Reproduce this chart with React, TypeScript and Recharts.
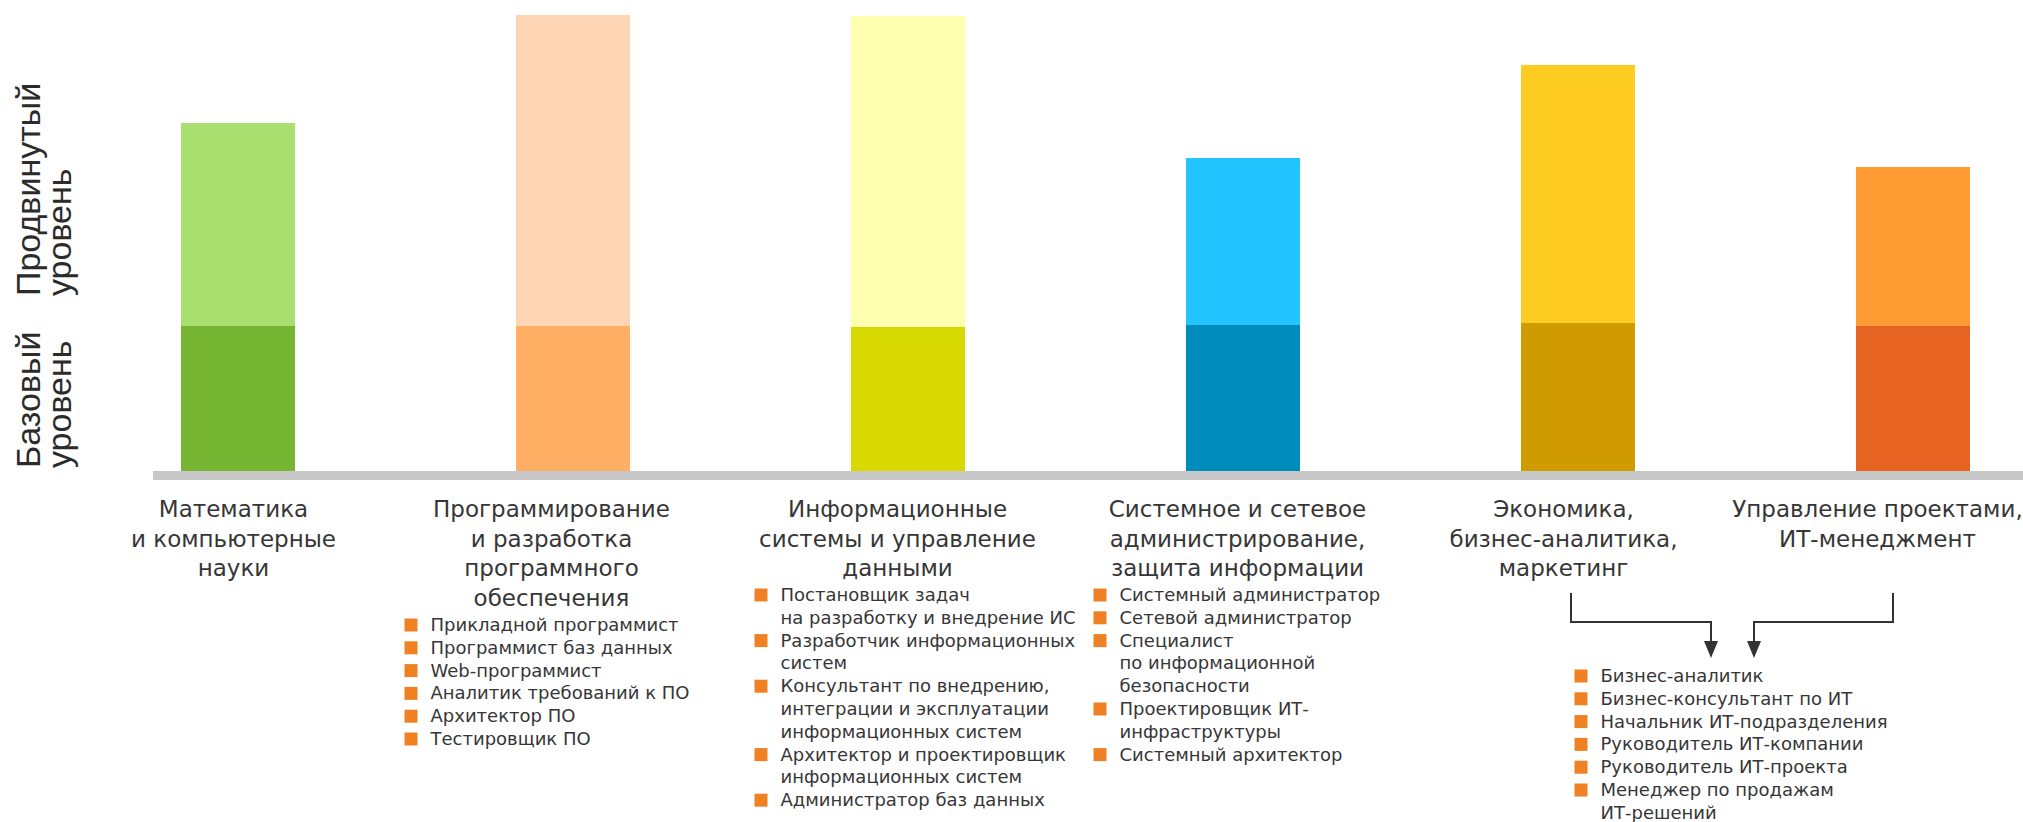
import React from 'react';
import { BarChart, Bar, XAxis, YAxis, Cell } from 'recharts';

// categories (x axis)
const CATEGORIES = [
  'Математика и компьютерные науки',
  'Программирование и разработка программного обеспечения',
  'Информационные системы и управление данными',
  'Системное и сетевое администрирование, защита информации',
  'Экономика, бизнес-аналитика, маркетинг',
  'Управление проектами, ИТ-менеджмент',
];

// stacked values: base level + advanced level (relative units)
const BASE_LEVEL = [145, 145, 144, 146, 148, 145];
const ADVANCED_LEVEL = [203, 311, 311, 167, 258, 159];

const LABEL_LINES = [
  ['Математика', 'и компьютерные', 'науки'],
  ['Программирование', 'и разработка', 'программного', 'обеспечения'],
  ['Информационные', 'системы и управление', 'данными'],
  ['Системное и сетевое', 'администрирование,', 'защита информации'],
  ['Экономика,', 'бизнес-аналитика,', 'маркетинг'],
  ['Управление проектами,', 'ИТ-менеджмент'],
];

// professions under each category (each item may wrap to several lines)
const JOBS = [
  [],
  [
    ['Прикладной программист'],
    ['Программист баз данных'],
    ['Web-программист'],
    ['Аналитик требований к ПО'],
    ['Архитектор ПО'],
    ['Тестировщик ПО'],
  ],
  [
    ['Постановщик задач', 'на разработку и внедрение ИС'],
    ['Разработчик информационных', 'систем'],
    ['Консультант по внедрению,', 'интеграции и эксплуатации', 'информационных систем'],
    ['Архитектор и проектировщик', 'информационных систем'],
    ['Администратор баз данных'],
  ],
  [
    ['Системный администратор'],
    ['Сетевой администратор'],
    ['Специалист', 'по информационной', 'безопасности'],
    ['Проектировщик ИТ-', 'инфраструктуры'],
    ['Системный архитектор'],
  ],
  [
    ['Бизнес-аналитик'],
    ['Бизнес-консультант по ИТ'],
    ['Начальник ИТ-подразделения'],
    ['Руководитель ИТ-компании'],
    ['Руководитель ИТ-проекта'],
    ['Менеджер по продажам', 'ИТ-решений'],
  ],
  [],
];

const LEVEL_TICKS = [3, 175];
const LEVEL_LABELS = [
  ['Базовый', 'уровень'],
  ['Продвинутый', 'уровень'],
];

const BASE_COLORS = ['#76B532', '#FFAE63', '#D7D900', '#008BBD', '#CF9B00', '#E66322'];
const ADVANCED_COLORS = ['#A8DF6E', '#FED5B5', '#FFFFB0', '#22C5FF', '#FFCC22', '#FF9B33'];

const data = CATEGORIES.map((name, i) => ({
  name,
  base: BASE_LEVEL[i],
  advanced: ADVANCED_LEVEL[i],
}));

// layout tweaks for the texts under the axis
const LABEL_DX = [-4, -21, -10, -5, -14, -35];
const LIST_DX = [0, -168, -153, -149, -3, 0];
const LIST_TOP = [0, 625, 595, 595, 676, 0];
const LINE_H = 22.8;
const TEXT = '#363636';
const BULLET = '#F08122';

const Arrow = ({ x1, x2 }) => (
  <g>
    <path d={`M${x1},593 V622 H${x2} V645`} fill="none" stroke="#333" strokeWidth={2} />
    <polygon points={`${x2 - 7},641 ${x2 + 7},641 ${x2},658`} fill="#333" />
  </g>
);

const CategoryTick = (props) => {
  const { x, payload } = props;
  const i = CATEGORIES.indexOf(payload.value);
  const cx = x + LABEL_DX[i];
  const lines = LABEL_LINES[i];
  const items = JOBS[i];
  let row = 0;
  return (
    <g>
      {lines.map((l, k) => (
        <text
          key={k}
          x={cx}
          y={517 + k * 29.7}
          textAnchor="middle"
          fontFamily="DejaVu Sans"
          fontSize={23}
          fill={TEXT}
        >
          {l}
        </text>
      ))}
      {items.map((item, k) => {
        const start = row;
        row += item.length;
        const sx = x + LIST_DX[i];
        const top = LIST_TOP[i] + start * LINE_H;
        return (
          <g key={k}>
            <rect x={sx} y={top - 6.5} width={13} height={13} fill={BULLET} />
            {item.map((t, m) => (
              <text
                key={m}
                x={sx + 26}
                y={top + 6 + m * LINE_H}
                fontFamily="DejaVu Sans"
                fontSize={18}
                fill={TEXT}
              >
                {t}
              </text>
            ))}
          </g>
        );
      })}
      {i === 4 && <Arrow x1={x - 6.5} x2={x + 133.5} />}
      {i === 5 && <Arrow x1={x - 19.5} x2={x - 158.5} />}
    </g>
  );
};

const LevelTick = (props) => {
  const { y, payload } = props;
  const lines = LEVEL_LABELS[LEVEL_TICKS.indexOf(payload.value)];
  return (
    <g>
      {lines.map((l, k) => {
        const bx = 40 + k * 31;
        return (
          <text
            key={k}
            x={bx}
            y={y}
            transform={`rotate(-90, ${bx}, ${y})`}
            fontFamily="Liberation Sans"
            fontSize={34}
            fill="#2b2b2b"
          >
            {l}
          </text>
        );
      })}
    </g>
  );
};

const App = () => {
  return (
    <div style={{ position: 'absolute', left: 0, top: 0, background: '#fff' }}>
      <BarChart
        width={2023}
        height={822}
        data={data}
        margin={{ top: 11, right: 0, left: 0, bottom: 0 }}
      >
        <XAxis
          dataKey="name"
          interval={0}
          height={351}
          tickLine={false}
          padding={{ left: -83, right: -57 }}
          axisLine={{ stroke: '#C6C7C6', strokeWidth: 9, transform: 'translate(0,4.5)' }}
          tick={<CategoryTick />}
        />
        <YAxis
          width={153}
          domain={[0, 460]}
          ticks={LEVEL_TICKS}
          axisLine={false}
          tickLine={false}
          tick={<LevelTick />}
        />
        <Bar dataKey="base" stackId="lvl" barSize={114} isAnimationActive={false}>
          {data.map((_, i) => (
            <Cell key={i} fill={BASE_COLORS[i]} />
          ))}
        </Bar>
        <Bar dataKey="advanced" stackId="lvl" barSize={114} isAnimationActive={false}>
          {data.map((_, i) => (
            <Cell key={i} fill={ADVANCED_COLORS[i]} />
          ))}
        </Bar>
      </BarChart>
    </div>
  );
};

export default App;
